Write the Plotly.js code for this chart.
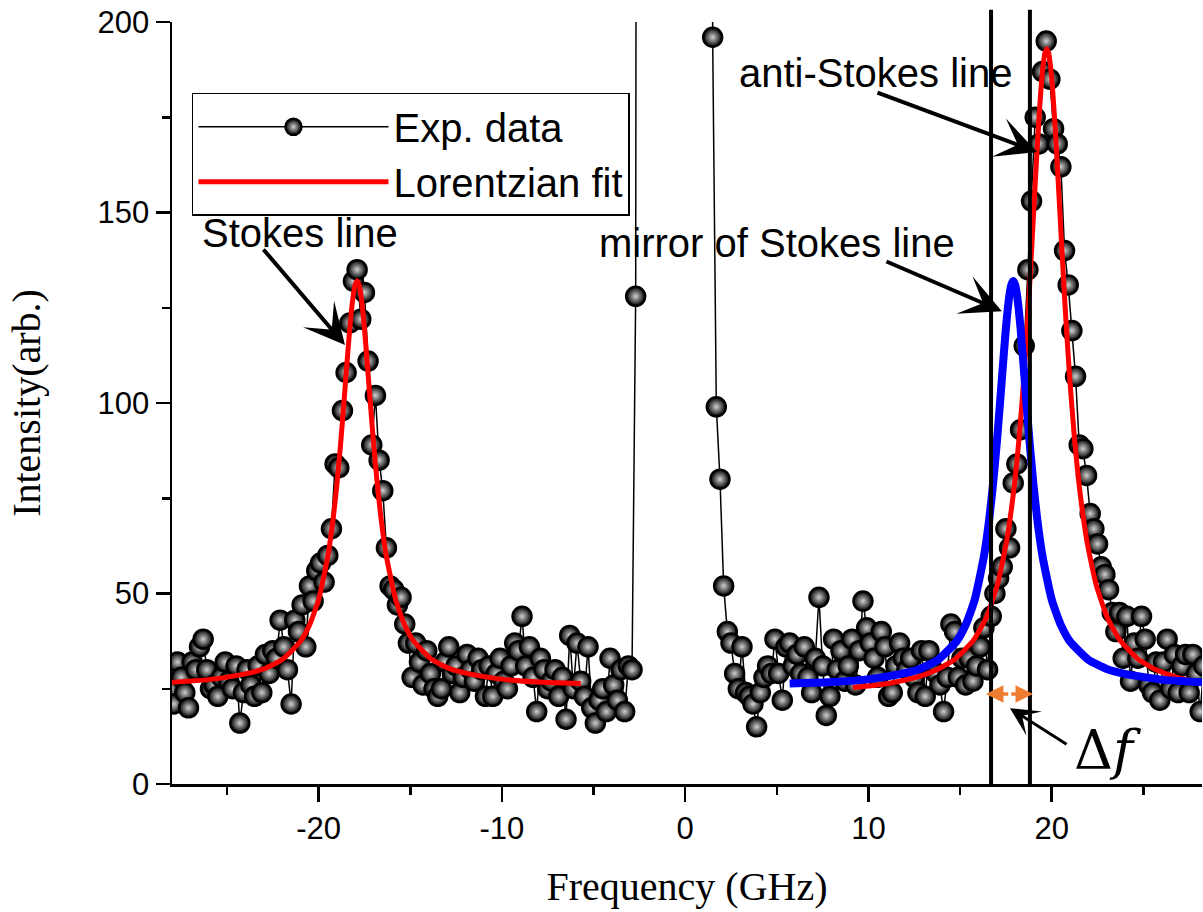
<!DOCTYPE html>
<html>
<head>
<meta charset="utf-8">
<script src="https://cdn.plot.ly/plotly-3.0.1.min.js"></script>
<style>html,body{margin:0;padding:0;background:#fff;}#chart{width:1203px;height:912px;}</style>
</head>
<body>
<div id="chart"></div>
<script>
// ---- Experimental data: Stokes side (negative frequencies) ----
const stokesSideX = [
-28.1,-27.9,-27.7,-27.5,-27.3,-27.1,-26.9,-26.7,-26.5,-26.3,
-26.1,-25.9,-25.7,-25.5,-25.3,-25.1,-24.9,-24.7,-24.5,-24.3,
-24.1,-23.9,-23.7,-23.5,-23.3,-23.1,-22.9,-22.7,-22.5,-22.3,
-22.1,-21.9,-21.7,-21.5,-21.3,-21.1,-20.9,-20.7,-20.5,-20.3,
-20.1,-19.9,-19.7,-19.5,-19.3,-19.1,-18.9,-18.7,-18.5,-18.3,
-18.1,-17.9,-17.7,-17.5,-17.3,-17.1,-16.9,-16.7,-16.5,-16.3,
-16.1,-15.9,-15.7,-15.5,-15.3,-15.1,-14.9,-14.7,-14.5,-14.3,
-14.1,-13.9,-13.7,-13.5,-13.3,-13.1,-12.9,-12.7,-12.5,-12.3,
-12.1,-11.9,-11.7,-11.5,-11.3,-11.1,-10.9,-10.7,-10.5,-10.3,
-10.1,-9.9,-9.7,-9.5,-9.3,-9.1,-8.9,-8.7,-8.5,-8.3,
-8.1,-7.9,-7.7,-7.5,-7.3,-7.1,-6.9,-6.7,-6.5,-6.3,
-6.1,-5.9,-5.7,-5.5,-5.3,-5.1,-4.9,-4.7,-4.5,-4.3,
-4.1,-3.9,-3.7,-3.5,-3.3,-3.1,-2.9,-2.7];
const stokesSideY = [
25,21,32,28,24,20,32,30,36,38,
30,25,26,23,28,32,27,25,31,16,
24,30,26,23,31,24,34,29,35,33,
43,36,30,21,43,40,47,36,52,48,
56,58,53,60,67,84,83,98,108,121,
132,135,122,129,111,89,102,85,77,62,
52,51,47,49,42,37,28,37,32,26,
35,29,25,23,25,32,36,29,31,24,
28,34,30,27,33,30,23,31,23,29,
33,27,25,31,37,35,44,31,36,28,
19,33,30,25,27,30,23,28,17,39,
25,37,27,23,36,20,16,22,25,19,
33,26,22,30,19,31,30,128];
// ---- Central (Rayleigh) region: off scale ----
const centerX = [-2.5, 1.3];
const centerY = [1000, 1000];
// ---- Experimental data: anti-Stokes side (positive frequencies) ----
const antiSideX = [
1.5,1.7,1.9,2.1,2.3,2.5,2.7,2.9,3.1,3.3,
3.5,3.7,3.9,4.1,4.3,4.5,4.7,4.9,5.1,5.3,
5.5,5.7,5.9,6.1,6.3,6.5,6.7,6.9,7.1,7.3,
7.5,7.7,7.9,8.1,8.3,8.5,8.7,8.9,9.1,9.3,
9.5,9.7,9.9,10.1,10.3,10.5,10.7,10.9,11.1,11.3,
11.5,11.7,11.9,12.1,12.3,12.5,12.7,12.9,13.1,13.3,
13.5,13.7,13.9,14.1,14.3,14.5,14.7,14.9,15.1,15.3,
15.5,15.7,15.9,16.1,16.3,16.5,16.7,16.9,17.1,17.3,
17.5,17.7,17.9,18.1,18.3,18.5,18.7,18.9,19.1,19.3,
19.5,19.7,19.9,20.1,20.3,20.5,20.7,20.9,21.1,21.3,
21.5,21.7,21.9,22.1,22.3,22.5,22.7,22.9,23.1,23.3,
23.5,23.7,23.9,24.1,24.3,24.5,24.7,24.9,25.1,25.3,
25.5,25.7,25.9,26.1,26.3,26.5,26.7,26.9,27.1,27.3,
27.5,27.7,27.9,28.1,28.3];
const antiSideY = [
196,99,80,52,40,37,29,25,36,24,
23,21,15,24,28,31,29,38,29,22,
36,37,31,34,29,36,28,24,33,49,
31,18,23,38,30,35,27,31,38,26,
35,48,41,37,33,28,40,36,23,24,
31,37,33,30,33,28,24,35,23,35,
30,29,26,19,28,42,40,28,33,26,
33,27,31,36,41,30,44,50,54,57,
67,62,79,84,93,115,135,153,175,168,
187,195,185,172,168,162,140,131,119,107,
89,88,81,71,67,63,57,55,51,45,
40,45,33,44,27,37,33,44,38,26,
24,32,22,32,38,25,34,24,31,34,
24,34,29,19,31];

// ---- Lorentzian fit of the Stokes line ----
const stokesFitX = [-28.0,-26.0,-24.0,-23.0,-22.0,-21.0,-20.5,-20.0,-19.5,-19.2,-19.0,-18.8,-18.6,-18.45,-18.3,-18.2,-18.1,-18.0,-17.9,-17.8,-17.7,-17.6,-17.5,-17.35,-17.2,-17.0,-16.8,-16.6,-16.3,-15.8,-15.3,-14.8,-13.8,-12.8,-11.8,-9.8,-7.8,-5.7];
const stokesFitY = [26.7,27.4,28.9,30.2,32.6,37.4,41.7,48.4,59.7,69.9,78.8,89.3,101.3,110.7,119.6,124.6,128.6,131.1,132,131.1,128.6,124.6,119.6,110.7,101.3,89.3,78.8,69.9,59.7,48.4,41.7,37.4,32.6,30.2,28.9,27.4,26.7,26.4];
// ---- Mirror of Stokes line (blue) ----
const mirrorX = [5.7,7.8,9.8,11.8,12.8,13.8,14.8,15.3,15.8,16.3,16.6,16.8,17.0,17.2,17.35,17.5,17.6,17.7,17.8,17.9,18.0,18.1,18.2,18.3,18.45,18.6,18.8,19.0,19.2,19.5,20.0,20.5,21.0,22.0,23.0,24.0,26.0,28.2];
const mirrorY = [26.4,26.7,27.4,28.9,30.2,32.6,37.4,41.7,48.4,59.7,69.9,78.8,89.3,101.3,110.7,119.6,124.6,128.6,131.1,132,131.1,128.6,124.6,119.6,110.7,101.3,89.3,78.8,69.9,59.7,48.4,41.7,37.4,32.6,30.2,28.9,27.4,26.7];
// ---- Lorentzian fit of the anti-Stokes line ----
const antiFitX = [9.15,11.0,12.7,13.7,14.7,15.73,16.43,17.03,17.53,17.93,18.23,18.48,18.73,18.93,19.13,19.28,19.43,19.53,19.63,19.73,19.83,19.93,20.03,20.18,20.33,20.53,20.73,20.98,21.23,21.53,21.93,22.43,23.03,23.73,24.73,25.73,26.73,28.2];
const antiFitY = [25.3,26.3,28.1,29.9,32.7,37.7,43.7,52.2,63.5,77.1,91.4,106.6,125.3,142.5,160.3,172.9,183.5,188.6,191.9,193,191.9,188.6,183.5,172.9,160.3,142.5,125.3,106.6,91.4,77.1,63.5,52.2,43.7,37.7,32.7,29.9,28.1,26.5];

// ---- Tick labels ----
const xTickVals = [-20,-10,0,10,20];
const xTickText = ['-20','-10','0','10','20'];
const yTickVals = [0,50,100,150,200];
const yTickText = ['0','50','100','150','200'];

const expX = stokesSideX.concat(centerX, antiSideX);
const expY = stokesSideY.concat(centerY, antiSideY);

const traces = [
  {
    x: expX, y: expY, type: 'scatter', mode: 'lines+markers', name: 'Exp. data',
    line: {color: '#000', width: 1.5},
    marker: {size: 19, color: '#000', gradient: {type: 'radial', color: '#d0d0d0'}, line: {color: '#000', width: 2.5}}
  },
  {
    x: stokesFitX, y: stokesFitY, type: 'scatter', mode: 'lines', name: 'Lorentzian fit',
    line: {color: '#ff0000', width: 5, shape: 'spline', smoothing: 0.5}
  },
  {
    x: antiFitX, y: antiFitY, type: 'scatter', mode: 'lines', name: 'anti-Stokes fit', showlegend: false,
    line: {color: '#ff0000', width: 5, shape: 'spline', smoothing: 0.5}
  },
  {
    x: mirrorX, y: mirrorY, type: 'scatter', mode: 'lines', name: 'mirror', showlegend: false,
    line: {color: '#0000ff', width: 8, shape: 'spline', smoothing: 0.5}
  }
];

const annFont = {family: 'Liberation Sans, Arial, sans-serif', size: 40, color: '#000'};
function arrowAnn(x, y, ax, ay, color, width, head, size) {
  return {x: x, y: y, ax: ax, ay: ay, xref: 'x', yref: 'y', axref: 'x', ayref: 'y',
    text: '', showarrow: true, arrowcolor: color, arrowwidth: width, arrowhead: head, arrowsize: size, standoff: 0, startstandoff: 0};
}

const layout = {
  width: 1203, height: 912,
  margin: {l: 172, r: 1, t: 22, b: 128},
  paper_bgcolor: '#fff', plot_bgcolor: '#fff',
  showlegend: true,
  xaxis: {
    range: [-28.0, 28.2], showgrid: false, zeroline: false,
    showline: true, linecolor: '#000', linewidth: 2.5,
    ticks: 'outside', ticklen: 15, tickwidth: 2.5, tickcolor: '#000',
    tickmode: 'array', tickvals: xTickVals, ticktext: xTickText,
    minor: {dtick: 5, ticks: 'outside', ticklen: 8, tickwidth: 2.5, tickcolor: '#000', showgrid: false},
    tickfont: {family: 'Liberation Sans, Arial, sans-serif', size: 31, color: '#000'},
    title: {text: 'Frequency (GHz)', font: {family: 'Liberation Serif, Times New Roman, serif', size: 40, color: '#000'}, standoff: 28},
    automargin: false
  },
  yaxis: {
    range: [0, 200], showgrid: false, zeroline: false,
    showline: true, linecolor: '#000', linewidth: 2.5,
    ticks: 'outside', ticklen: 14, tickwidth: 2.5, tickcolor: '#000',
    tickmode: 'array', tickvals: yTickVals, ticktext: yTickText,
    minor: {dtick: 25, ticks: 'outside', ticklen: 8, tickwidth: 2.5, tickcolor: '#000', showgrid: false},
    tickfont: {family: 'Liberation Sans, Arial, sans-serif', size: 31, color: '#000'},
    title: {text: 'Intensity(arb.)', font: {family: 'Liberation Serif, Times New Roman, serif', size: 40, color: '#000'}, standoff: 45},
    automargin: false
  },
  legend: {
    x: 0.0194, y: 0.907, xanchor: 'left', yanchor: 'top',
    bgcolor: '#fff', bordercolor: '#000', borderwidth: 1.5,
    font: {family: 'Liberation Sans, Arial, sans-serif', size: 40, color: '#000'},
    itemwidth: 190
  },
  shapes: [
    {type: 'line', xref: 'x', yref: 'paper', x0: 16.69, x1: 16.69, y0: 0, y1: 1.016, line: {color: '#000', width: 4}},
    {type: 'line', xref: 'x', yref: 'paper', x0: 18.81, x1: 18.81, y0: 0, y1: 1.016, line: {color: '#000', width: 4}}
  ],
  annotations: [
    {x: -21.0, y: 144.6, xref: 'x', yref: 'y', text: 'Stokes line', showarrow: false, font: annFont},
    {x: 10.36, y: 186.6, xref: 'x', yref: 'y', text: 'anti-Stokes line', showarrow: false, font: annFont},
    {x: 5.01, y: 142.0, xref: 'x', yref: 'y', text: 'mirror of Stokes line', showarrow: false, font: annFont},
    {x: 23.07, y: 8.9, xref: 'x', yref: 'y', text: 'Δ<i>f</i>', showarrow: false,
      font: {family: 'DejaVu Serif, serif', size: 54, color: '#000'}},
    arrowAnn(-18.56, 115.2, -23.08, 140.7, '#000', 4, 3, 1.7),
    arrowAnn(19.2, 165.9, 10.41, 181.6, '#000', 4, 3, 1.7),
    arrowAnn(17.28, 124.1, 10.9, 137.3, '#000', 4, 3, 1.7),
    arrowAnn(17.72, 19.9, 20.89, 10.2, '#000', 3, 3, 1.6),
    arrowAnn(16.41, 23.6, 17.71, 23.6, '#ED7D31', 3.5, 2, 1.0),
    arrowAnn(18.98, 23.6, 17.71, 23.6, '#ED7D31', 3.5, 2, 1.0)
  ]
};

Plotly.newPlot('chart', traces, layout, {displayModeBar: false, staticPlot: true});
</script>
</body>
</html>
